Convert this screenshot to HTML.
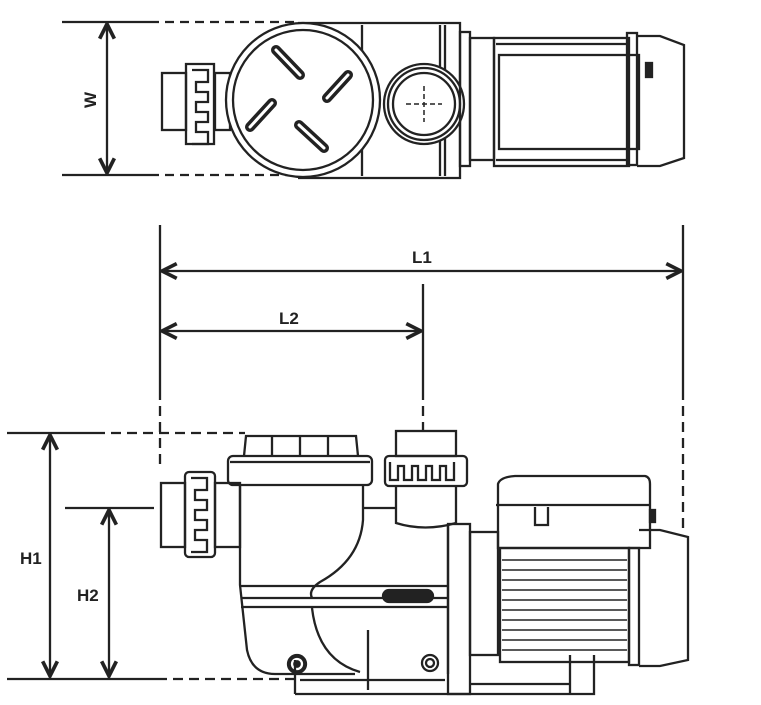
<!DOCTYPE html>
<html><head><meta charset="utf-8"><style>
html,body{margin:0;padding:0;background:#fff;}
svg{display:block}
text{font-family:"Liberation Sans",sans-serif;font-weight:bold;font-size:17px;fill:#222}
</style></head><body>
<svg width="761" height="705" viewBox="0 0 761 705" xmlns="http://www.w3.org/2000/svg">
<defs>
<marker id="a" viewBox="0 0 10 10" refX="9" refY="5" markerWidth="8" markerHeight="8" orient="auto-start-reverse"><path d="M1,1 L9,5 L1,9" fill="none" stroke="#222" stroke-width="2"/></marker>
</defs>
<g stroke="#222" stroke-width="2.3" fill="none">
<line x1="62" y1="22" x2="150" y2="22"/>
<line x1="150" y1="22" x2="295" y2="22" stroke-dasharray="9,6"/>
<line x1="62" y1="175" x2="150" y2="175"/>
<line x1="150" y1="175" x2="295" y2="175" stroke-dasharray="9,6"/>
<line x1="107" y1="24" x2="107" y2="173" marker-start="url(#a)" marker-end="url(#a)"/>
<rect x="162" y="73" width="24" height="57"/>
<path d="M186,64 h28 v80 h-28 z"/>
<path d="M192,70 h16 v12 h-12 v10 h12 v10 h-12 v10 h12 v10 h-12 v10 h12 v12 h-16"/>
<rect x="215" y="73" width="15" height="57"/>
<path d="M298,23 L460,23 L460,178 L298,178"/>
<line x1="362" y1="25" x2="362" y2="176"/>
<line x1="440" y1="25" x2="440" y2="176"/>
<line x1="445" y1="25" x2="445" y2="176"/>
<circle cx="303" cy="100" r="77" fill="#fff"/>
<circle cx="303" cy="100" r="70"/>
<g stroke-linecap="round" stroke-width="10">
<line x1="276" y1="50" x2="300" y2="75"/>
<line x1="348" y1="75" x2="327" y2="98"/>
<line x1="272" y1="103" x2="250" y2="127"/>
<line x1="299" y1="125" x2="324" y2="148"/>
</g>
<g stroke="#fff" stroke-width="3" stroke-linecap="round">
<line x1="276" y1="50" x2="300" y2="75"/>
<line x1="348" y1="75" x2="327" y2="98"/>
<line x1="272" y1="103" x2="250" y2="127"/>
<line x1="299" y1="125" x2="324" y2="148"/>
</g>
<circle cx="424" cy="104" r="40" fill="#fff"/>
<circle cx="424" cy="104" r="36"/>
<circle cx="424" cy="104" r="31"/>
<line x1="406" y1="104" x2="442" y2="104" stroke-width="1.5" stroke-dasharray="5,3"/>
<line x1="424" y1="86" x2="424" y2="122" stroke-width="1.5" stroke-dasharray="5,3"/>
<rect x="460" y="32" width="10" height="134"/>
<rect x="470" y="38" width="24" height="122"/>
<rect x="494" y="38" width="135" height="128"/>
<rect x="499" y="55" width="140" height="94"/>
<line x1="496" y1="44" x2="627" y2="44"/>
<line x1="496" y1="160" x2="627" y2="160"/>
<rect x="627" y="33" width="10" height="132"/>
<path d="M637,36 H660 L684,45 V158 L660,166 H637"/>
<rect x="646" y="63" width="6" height="14" fill="#222"/>

<line x1="160" y1="225" x2="160" y2="390"/>
<line x1="160" y1="390" x2="160" y2="470" stroke-dasharray="10,6"/>
<line x1="683" y1="225" x2="683" y2="390"/>
<line x1="683" y1="390" x2="683" y2="528" stroke-dasharray="10,6"/>
<line x1="162" y1="271" x2="681" y2="271" marker-start="url(#a)" marker-end="url(#a)"/>
<line x1="423" y1="284" x2="423" y2="390"/>
<line x1="423" y1="390" x2="423" y2="430" stroke-dasharray="10,6"/>
<line x1="162" y1="331" x2="421" y2="331" marker-start="url(#a)" marker-end="url(#a)"/>
<line x1="7" y1="433" x2="95" y2="433"/>
<line x1="95" y1="433" x2="245" y2="433" stroke-dasharray="10,6"/>
<line x1="50" y1="435" x2="50" y2="676" marker-start="url(#a)" marker-end="url(#a)"/>
<line x1="65" y1="508" x2="154" y2="508"/>
<line x1="109" y1="510" x2="109" y2="676" marker-start="url(#a)" marker-end="url(#a)"/>
<line x1="7" y1="679" x2="157" y2="679"/>
<line x1="157" y1="679" x2="295" y2="679" stroke-dasharray="10,6"/>

<rect x="161" y="483" width="24" height="64"/>
<rect x="185" y="472" width="30" height="85" rx="4"/>
<path d="M191,478 h16 v12 h-12 v10 h12 v10 h-12 v10 h12 v10 h-12 v10 h12 v12 h-16"/>
<rect x="215" y="483" width="25" height="64"/>
<path d="M244,456 L246,436 H356 L358,456"/>
<line x1="272" y1="437" x2="272" y2="456"/><line x1="300" y1="437" x2="300" y2="456"/><line x1="328" y1="437" x2="328" y2="456"/>
<rect x="228" y="456" width="144" height="29" rx="5"/>
<line x1="230" y1="462" x2="370" y2="462"/>
<path d="M240,485 V585 L247,650 Q252,674 275,674 H355"/>
<path d="M363,485 V520 Q360,560 320,582 Q308,590 312,598"/>
<path d="M312,608 Q318,660 360,672"/>
<line x1="241" y1="586" x2="448" y2="586"/>
<line x1="241" y1="598" x2="448" y2="598"/>
<line x1="241" y1="607" x2="448" y2="607"/>
<rect x="383" y="590" width="50" height="12" rx="6" fill="#222"/>
<rect x="396" y="431" width="60" height="25"/>
<rect x="385" y="456" width="82" height="30" rx="4"/>
<path d="M390,462 v18 h8 v-14 h6 v14 h8 v-14 h6 v14 h8 v-14 h6 v14 h8 v-14 h6 v14 h8 v-18"/>
<path d="M396,486 V523 Q425,532 456,523 V486"/>
<line x1="363" y1="508" x2="396" y2="508"/>
<path d="M448,524 V674"/>
<line x1="368" y1="630" x2="368" y2="690"/>
<circle cx="297" cy="664" r="9" fill="#222"/>
<circle cx="297" cy="664" r="5" stroke="#fff" fill="none"/>
<circle cx="430" cy="663" r="8"/><circle cx="430" cy="663" r="4"/>
<rect x="448" y="524" width="22" height="170"/>
<rect x="470" y="532" width="28" height="123"/>
<path d="M498,548 V484 Q500,477 515,476 H645 Q650,477 650,484 V548 Z"/>
<line x1="496" y1="505" x2="650" y2="505"/>
<path d="M535,507 V525 H548 V507"/>
<rect x="650" y="510" width="5" height="12" fill="#222"/>
<rect x="500" y="548" width="129" height="114"/>
<g stroke-width="1.5">
<line x1="502" y1="560" x2="627" y2="560"/><line x1="502" y1="570" x2="627" y2="570"/>
<line x1="502" y1="580" x2="627" y2="580"/><line x1="502" y1="590" x2="627" y2="590"/>
<line x1="502" y1="600" x2="627" y2="600"/><line x1="502" y1="610" x2="627" y2="610"/>
<line x1="502" y1="620" x2="627" y2="620"/><line x1="502" y1="630" x2="627" y2="630"/>
<line x1="502" y1="640" x2="627" y2="640"/><line x1="502" y1="650" x2="627" y2="650"/>
</g>
<rect x="629" y="548" width="10" height="117"/>
<path d="M639,530 H660 L688,537 V660 L660,666 H639"/>
<path d="M295,694 V660 M295,694 H594 V655 M300,680 H445 M470,684 H570 M570,655 V694"/>
</g>
<text x="412" y="263">L1</text>
<text x="279" y="324">L2</text>
<text x="82" y="106" transform="rotate(-90 90 100)">W</text>
<text x="20" y="564">H1</text>
<text x="77" y="601">H2</text>
</svg>
</body></html>
